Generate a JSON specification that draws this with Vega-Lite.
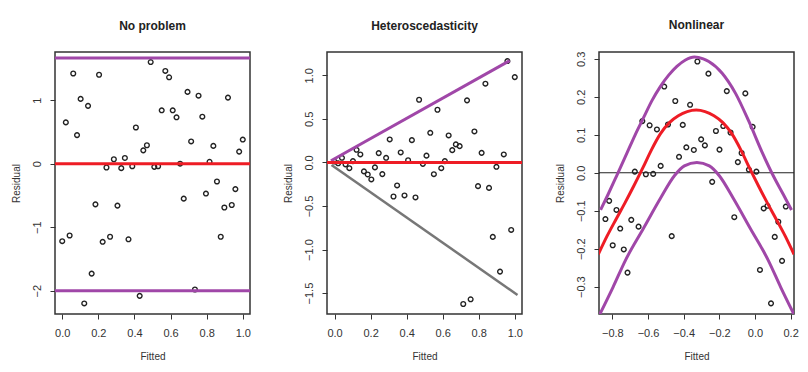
{
  "$schema": "https://vega.github.io/schema/vega-lite/v6.json",
  "padding": {"left": 10, "top": 18, "right": 5, "bottom": 5},
  "bounds": "flush",
  "spacing": 77,
  "config": {
    "font": "Liberation Sans",
    "view": {"stroke": "#333", "strokeWidth": 1.5},
    "title": {"font": "Liberation Sans", "fontSize": 12, "fontWeight": "bold", "color": "#222", "offset": 19, "frame": "group", "anchor": "middle"},
    "axis": {"grid": false, "domain": false, "ticks": true, "tickSize": 5, "tickColor": "#333", "tickWidth": 1, "labelFont": "Liberation Sans", "labelFontSize": 11, "labelColor": "#333", "labelFlush": false, "labelOverlap": false, "titleFont": "Liberation Sans", "titleFontSize": 10, "titleFontWeight": "normal", "titleColor": "#333"},
    "axisX": {"labelPadding": 8, "titlePadding": 13},
    "axisY": {"labelAngle": 270, "labelPadding": 8, "titlePadding": 10}
  },
  "datasets": {
    "p1": [
      {"x": 0.000, "y": -1.22}, {"x": 0.020, "y": 0.65}, {"x": 0.041, "y": -1.13}, {"x": 0.061, "y": 1.42}, {"x": 0.082, "y": 0.45},
      {"x": 0.102, "y": 1.02}, {"x": 0.122, "y": -2.2}, {"x": 0.143, "y": 0.91}, {"x": 0.163, "y": -1.73}, {"x": 0.184, "y": -0.64},
      {"x": 0.204, "y": 1.40}, {"x": 0.224, "y": -1.23}, {"x": 0.245, "y": -0.06}, {"x": 0.265, "y": -1.15}, {"x": 0.286, "y": 0.07},
      {"x": 0.306, "y": -0.66}, {"x": 0.327, "y": -0.07}, {"x": 0.347, "y": 0.09}, {"x": 0.367, "y": -1.19}, {"x": 0.388, "y": -0.04},
      {"x": 0.408, "y": 0.57}, {"x": 0.429, "y": -2.08}, {"x": 0.449, "y": 0.21}, {"x": 0.469, "y": 0.29}, {"x": 0.490, "y": 1.60},
      {"x": 0.510, "y": -0.05}, {"x": 0.531, "y": -0.04}, {"x": 0.551, "y": 0.84}, {"x": 0.571, "y": 1.46}, {"x": 0.592, "y": 1.36},
      {"x": 0.612, "y": 0.84}, {"x": 0.633, "y": 0.73}, {"x": 0.653, "y": 0.0}, {"x": 0.673, "y": -0.55}, {"x": 0.694, "y": 1.13},
      {"x": 0.714, "y": 0.35}, {"x": 0.735, "y": -1.98}, {"x": 0.755, "y": 1.07}, {"x": 0.776, "y": 0.74}, {"x": 0.796, "y": -0.47},
      {"x": 0.816, "y": 0.03}, {"x": 0.837, "y": 0.28}, {"x": 0.857, "y": -0.28}, {"x": 0.878, "y": -1.15}, {"x": 0.898, "y": -0.69},
      {"x": 0.918, "y": 1.04}, {"x": 0.939, "y": -0.65}, {"x": 0.959, "y": -0.40}, {"x": 0.980, "y": 0.19}, {"x": 1.000, "y": 0.38}
    ],
    "p1lim": [{"y": 1.665}, {"y": -2.0}],
    "zero": [{"y": 0}],
    "p2": [
      {"x": 0.000, "y": 0.01}, {"x": 0.020, "y": -0.01}, {"x": 0.041, "y": 0.053}, {"x": 0.061, "y": -0.023}, {"x": 0.082, "y": -0.066},
      {"x": 0.102, "y": 0.015}, {"x": 0.122, "y": 0.145}, {"x": 0.143, "y": 0.092}, {"x": 0.163, "y": -0.103}, {"x": 0.184, "y": -0.138},
      {"x": 0.204, "y": -0.195}, {"x": 0.224, "y": -0.057}, {"x": 0.245, "y": 0.107}, {"x": 0.265, "y": -0.134}, {"x": 0.286, "y": 0.053},
      {"x": 0.306, "y": 0.264}, {"x": 0.327, "y": -0.391}, {"x": 0.347, "y": -0.264}, {"x": 0.367, "y": 0.115}, {"x": 0.388, "y": -0.379},
      {"x": 0.408, "y": 0.026}, {"x": 0.429, "y": 0.256}, {"x": 0.449, "y": -0.402}, {"x": 0.469, "y": 0.72}, {"x": 0.490, "y": -0.016},
      {"x": 0.510, "y": 0.078}, {"x": 0.531, "y": 0.34}, {"x": 0.551, "y": -0.135}, {"x": 0.571, "y": 0.605}, {"x": 0.592, "y": -0.066},
      {"x": 0.612, "y": 0.015}, {"x": 0.633, "y": 0.31}, {"x": 0.653, "y": 0.141}, {"x": 0.673, "y": 0.207}, {"x": 0.694, "y": 0.187},
      {"x": 0.714, "y": -1.625}, {"x": 0.735, "y": 0.713}, {"x": 0.755, "y": -1.571}, {"x": 0.776, "y": 0.356}, {"x": 0.796, "y": -0.272},
      {"x": 0.816, "y": 0.11}, {"x": 0.837, "y": 0.904}, {"x": 0.857, "y": -0.292}, {"x": 0.878, "y": -0.855}, {"x": 0.898, "y": -0.05},
      {"x": 0.918, "y": -1.253}, {"x": 0.939, "y": 0.092}, {"x": 0.959, "y": 1.164}, {"x": 0.980, "y": -0.775}, {"x": 1.000, "y": 0.98}
    ],
    "p2up": [{"x": -0.02, "y": 0.02}, {"x": 0.972, "y": 1.169}],
    "p2low": [{"x": -0.017, "y": -0.03}, {"x": 1.015, "y": -1.521}],
    "p3": [
      {"x": -0.839, "y": -0.122}, {"x": -0.818, "y": -0.074}, {"x": -0.798, "y": -0.191}, {"x": -0.777, "y": -0.098}, {"x": -0.756, "y": -0.147},
      {"x": -0.736, "y": -0.202}, {"x": -0.715, "y": -0.263}, {"x": -0.694, "y": -0.124}, {"x": -0.674, "y": 0.003}, {"x": -0.653, "y": -0.142},
      {"x": -0.632, "y": 0.136}, {"x": -0.612, "y": -0.004}, {"x": -0.591, "y": 0.125}, {"x": -0.571, "y": -0.003}, {"x": -0.550, "y": 0.114},
      {"x": -0.529, "y": 0.018}, {"x": -0.509, "y": 0.227}, {"x": -0.488, "y": 0.127}, {"x": -0.467, "y": -0.167}, {"x": -0.447, "y": 0.189},
      {"x": -0.426, "y": 0.042}, {"x": -0.405, "y": 0.126}, {"x": -0.385, "y": 0.067}, {"x": -0.364, "y": 0.179}, {"x": -0.343, "y": 0.060},
      {"x": -0.323, "y": 0.293}, {"x": -0.302, "y": 0.088}, {"x": -0.281, "y": 0.072}, {"x": -0.261, "y": 0.261}, {"x": -0.240, "y": -0.024},
      {"x": -0.219, "y": 0.110}, {"x": -0.199, "y": 0.061}, {"x": -0.178, "y": 0.123}, {"x": -0.158, "y": 0.215}, {"x": -0.137, "y": 0.106},
      {"x": -0.116, "y": -0.117}, {"x": -0.096, "y": 0.028}, {"x": -0.075, "y": 0.052}, {"x": -0.054, "y": 0.209}, {"x": -0.034, "y": 0.008},
      {"x": -0.013, "y": 0.121}, {"x": 0.008, "y": 0.003}, {"x": 0.028, "y": -0.256}, {"x": 0.049, "y": -0.094}, {"x": 0.070, "y": -0.087},
      {"x": 0.090, "y": -0.344}, {"x": 0.111, "y": -0.169}, {"x": 0.131, "y": -0.129}, {"x": 0.152, "y": -0.232}, {"x": 0.173, "y": -0.089}
    ],
    "p3fit": [
      {"x": -0.879, "y": -0.215}, {"x": -0.83, "y": -0.167}, {"x": -0.78, "y": -0.123}, {"x": -0.73, "y": -0.08}, {"x": -0.68, "y": -0.035},
      {"x": -0.63, "y": 0.012}, {"x": -0.58, "y": 0.061}, {"x": -0.53, "y": 0.103}, {"x": -0.48, "y": 0.132}, {"x": -0.43, "y": 0.15},
      {"x": -0.38, "y": 0.161}, {"x": -0.33, "y": 0.165}, {"x": -0.28, "y": 0.161}, {"x": -0.23, "y": 0.15}, {"x": -0.18, "y": 0.132},
      {"x": -0.13, "y": 0.103}, {"x": -0.08, "y": 0.061}, {"x": -0.03, "y": 0.012}, {"x": 0.02, "y": -0.035}, {"x": 0.07, "y": -0.08},
      {"x": 0.12, "y": -0.123}, {"x": 0.17, "y": -0.167}, {"x": 0.219, "y": -0.215}
    ],
    "p3band": [
      {"curve": "upper", "x": -0.866, "y": -0.098}, {"curve": "upper", "x": -0.823, "y": -0.056}, {"curve": "upper", "x": -0.776, "y": -0.008},
      {"curve": "upper", "x": -0.719, "y": 0.051}, {"curve": "upper", "x": -0.672, "y": 0.1}, {"curve": "upper", "x": -0.625, "y": 0.145},
      {"curve": "upper", "x": -0.578, "y": 0.19}, {"curve": "upper", "x": -0.531, "y": 0.227}, {"curve": "upper", "x": -0.484, "y": 0.257},
      {"curve": "upper", "x": -0.438, "y": 0.28}, {"curve": "upper", "x": -0.39, "y": 0.297}, {"curve": "upper", "x": -0.34, "y": 0.305},
      {"curve": "upper", "x": -0.29, "y": 0.3}, {"curve": "upper", "x": -0.259, "y": 0.293}, {"curve": "upper", "x": -0.184, "y": 0.262},
      {"curve": "upper", "x": -0.109, "y": 0.209}, {"curve": "upper", "x": -0.034, "y": 0.135}, {"curve": "upper", "x": 0.041, "y": 0.053},
      {"curve": "upper", "x": 0.107, "y": -0.012}, {"curve": "upper", "x": 0.16, "y": -0.058}, {"curve": "upper", "x": 0.205, "y": -0.098},
      {"curve": "lower", "x": -0.873, "y": -0.375}, {"curve": "lower", "x": -0.796, "y": -0.301}, {"curve": "lower", "x": -0.726, "y": -0.23},
      {"curve": "lower", "x": -0.626, "y": -0.147}, {"curve": "lower", "x": -0.531, "y": -0.068}, {"curve": "lower", "x": -0.452, "y": -0.008},
      {"curve": "lower", "x": -0.396, "y": 0.018}, {"curve": "lower", "x": -0.326, "y": 0.027}, {"curve": "lower", "x": -0.256, "y": 0.018},
      {"curve": "lower", "x": -0.2, "y": -0.008}, {"curve": "lower", "x": -0.121, "y": -0.068}, {"curve": "lower", "x": -0.026, "y": -0.147},
      {"curve": "lower", "x": 0.074, "y": -0.23}, {"curve": "lower", "x": 0.144, "y": -0.301}, {"curve": "lower", "x": 0.221, "y": -0.375}
    ]
  },
  "hconcat": [
    {
      "width": 195, "height": 262,
      "title": {"text": "No problem"},
      "layer": [
        {
          "data": {"name": "p1"},
          "mark": {"type": "point", "shape": "circle", "size": 22, "strokeWidth": 1.4, "color": "#222", "filled": false, "opacity": 1},
          "encoding": {
            "x": {"field": "x", "type": "quantitative", "scale": {"domain": [-0.04, 1.04], "nice": false, "zero": false}, "axis": {"title": "Fitted", "values": [0, 0.2, 0.4, 0.6, 0.8, 1], "format": ".1f"}},
            "y": {"field": "y", "type": "quantitative", "scale": {"domain": [-2.366, 1.758], "nice": false, "zero": false}, "axis": {"title": "Residual", "values": [-2, -1, 0, 1], "format": "d"}}
          }
        },
        {
          "data": {"name": "p1lim"},
          "mark": {"type": "rule", "color": "#a047a8", "strokeWidth": 3},
          "encoding": {"y": {"field": "y", "type": "quantitative", "axis": {"title": "Residual", "values": [-2, -1, 0, 1], "format": "d"}}}
        },
        {
          "data": {"name": "zero"},
          "mark": {"type": "rule", "color": "#ee1c25", "strokeWidth": 3},
          "encoding": {"y": {"field": "y", "type": "quantitative", "axis": {"title": "Residual", "values": [-2, -1, 0, 1], "format": "d"}}}
        }
      ]
    },
    {
      "width": 195, "height": 262,
      "title": {"text": "Heteroscedasticity"},
      "layer": [
        {
          "data": {"name": "p2"},
          "mark": {"type": "point", "shape": "circle", "size": 22, "strokeWidth": 1.4, "color": "#222", "filled": false, "opacity": 1},
          "encoding": {
            "x": {"field": "x", "type": "quantitative", "scale": {"domain": [-0.042, 1.04], "nice": false, "zero": false}, "axis": {"title": "Fitted", "values": [0, 0.2, 0.4, 0.6, 0.8, 1], "format": ".1f"}},
            "y": {"field": "y", "type": "quantitative", "scale": {"domain": [-1.74, 1.268], "nice": false, "zero": false}, "axis": {"title": "Residual", "values": [-1.5, -1, -0.5, 0, 0.5, 1], "format": ".1f"}}
          }
        },
        {
          "data": {"name": "p2low"},
          "mark": {"type": "line", "color": "#777777", "strokeWidth": 2.5, "clip": true},
          "encoding": {
            "x": {"field": "x", "type": "quantitative", "axis": {"title": "Fitted", "values": [0, 0.2, 0.4, 0.6, 0.8, 1], "format": ".1f"}},
            "y": {"field": "y", "type": "quantitative", "axis": {"title": "Residual", "values": [-1.5, -1, -0.5, 0, 0.5, 1], "format": ".1f"}}
          }
        },
        {
          "data": {"name": "p2up"},
          "mark": {"type": "line", "color": "#a047a8", "strokeWidth": 3, "clip": true},
          "encoding": {
            "x": {"field": "x", "type": "quantitative", "axis": {"title": "Fitted", "values": [0, 0.2, 0.4, 0.6, 0.8, 1], "format": ".1f"}},
            "y": {"field": "y", "type": "quantitative", "axis": {"title": "Residual", "values": [-1.5, -1, -0.5, 0, 0.5, 1], "format": ".1f"}}
          }
        },
        {
          "data": {"name": "zero"},
          "mark": {"type": "rule", "color": "#ee1c25", "strokeWidth": 3},
          "encoding": {"y": {"field": "y", "type": "quantitative", "axis": {"title": "Residual", "values": [-1.5, -1, -0.5, 0, 0.5, 1], "format": ".1f"}}}
        }
      ]
    },
    {
      "width": 195, "height": 262,
      "title": {"text": "Nonlinear"},
      "layer": [
        {
          "data": {"name": "zero"},
          "mark": {"type": "rule", "color": "#222", "strokeWidth": 1.2},
          "encoding": {"y": {"field": "y", "type": "quantitative", "scale": {"domain": [-0.372, 0.318], "nice": false, "zero": false}, "axis": {"title": "Residual", "values": [-0.3, -0.2, -0.1, 0, 0.1, 0.2, 0.3], "format": ".1f"}}}
        },
        {
          "data": {"name": "p3"},
          "mark": {"type": "point", "shape": "circle", "size": 22, "strokeWidth": 1.4, "color": "#222", "filled": false, "opacity": 1},
          "encoding": {
            "x": {"field": "x", "type": "quantitative", "scale": {"domain": [-0.875, 0.219], "nice": false, "zero": false}, "axis": {"title": "Fitted", "values": [-0.8, -0.6, -0.4, -0.2, 0, 0.2], "format": ".1f"}},
            "y": {"field": "y", "type": "quantitative", "axis": {"title": "Residual", "values": [-0.3, -0.2, -0.1, 0, 0.1, 0.2, 0.3], "format": ".1f"}}
          }
        },
        {
          "data": {"name": "p3band"},
          "mark": {"type": "line", "color": "#a047a8", "strokeWidth": 3, "clip": true, "interpolate": "monotone"},
          "encoding": {
            "x": {"field": "x", "type": "quantitative", "axis": {"title": "Fitted", "values": [-0.8, -0.6, -0.4, -0.2, 0, 0.2], "format": ".1f"}},
            "y": {"field": "y", "type": "quantitative", "axis": {"title": "Residual", "values": [-0.3, -0.2, -0.1, 0, 0.1, 0.2, 0.3], "format": ".1f"}},
            "detail": {"field": "curve", "type": "nominal"}
          }
        },
        {
          "data": {"name": "p3fit"},
          "mark": {"type": "line", "color": "#ee1c25", "strokeWidth": 3, "clip": true, "interpolate": "monotone"},
          "encoding": {
            "x": {"field": "x", "type": "quantitative", "axis": {"title": "Fitted", "values": [-0.8, -0.6, -0.4, -0.2, 0, 0.2], "format": ".1f"}},
            "y": {"field": "y", "type": "quantitative", "axis": {"title": "Residual", "values": [-0.3, -0.2, -0.1, 0, 0.1, 0.2, 0.3], "format": ".1f"}}
          }
        }
      ]
    }
  ]
}
